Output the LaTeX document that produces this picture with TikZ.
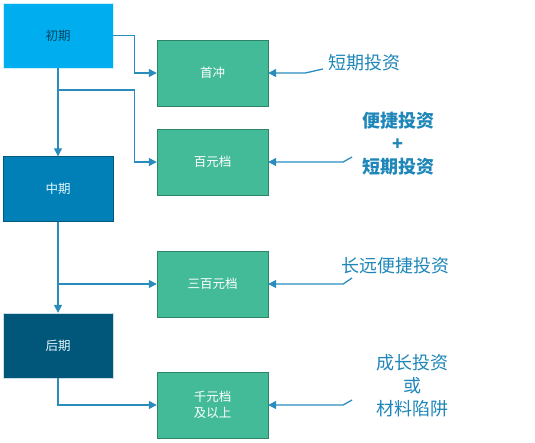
\documentclass[tikz,border=0pt]{standalone}
\usepackage{fontspec}
\setmainfont{Noto Sans CJK SC}
\usetikzlibrary{positioning,arrows.meta}
\definecolor{earlyblue}{HTML}{00AEEF}
\definecolor{midblue}{HTML}{0080B6}
\definecolor{lateblue}{HTML}{00577A}
\definecolor{tiergreen}{HTML}{44BB98}
\definecolor{tierline}{HTML}{2E8466}
\definecolor{flowblue}{HTML}{2A8CBD}
\definecolor{noteblue}{HTML}{1E86B8}
\tikzset{stagebox/.style={minimum width=110pt,minimum height=65pt,inner sep=0pt,text=white!90!cyan,font=\fontsize{12.5}{15}\selectfont},
  tierbox/.style={fill=tiergreen,draw=tierline,minimum width=111pt,minimum height=66pt,inner sep=0pt,text=white,align=center,font=\fontsize{12.5}{16}\selectfont},
  flow/.style={draw=flowblue,line width=1.3pt,-{Triangle[length=8pt,width=8pt]}},
  note/.style={text=noteblue,align=center,font=\fontsize{18}{23}\selectfont} }

\begin{document}
\begin{tikzpicture}[x=1pt,y=-1pt]
    \useasboundingbox (0,0) rectangle (535,442);
    % stages
    \node[stagebox,fill=earlyblue,draw=white!80!earlyblue,text=lateblue!80!black] (early) at (58,35.5) {初期};
    \node[stagebox,fill=midblue,draw=midblue!70!black] (mid) at (58,189) {中期};
    \node[stagebox,fill=lateblue,draw=white!80!lateblue] (late) at (58,345.5) {后期};
    % price tiers
    \node[tierbox] (first) at (212.5,73) {首冲};
    \node[tierbox] (hundred) at (212.5,162) {百元档};
    \node[tierbox] (threehundred) at (212.5,284) {三百元档};
    \node[tierbox] (thousand) at (212.5,405) {千元档\\及以上};
    % notes
    \node[note] (shortnote) at (364,63) {短期投资};
    \node[note,font=\fontsize{18}{23}\selectfont\bfseries] (mixnote) at (398,144) {便捷投资\\+\\短期投资};
    \node[note] (longnote) at (395,266) {长远便捷投资};
    \node[note] (growthnote) at (412,386) {成长投资\\或\\材料陷阱};
    \coordinate (branchA) at (58,90);
    \coordinate (branchB) at (58,284);
    \coordinate (shorttail) at (323,69);
    \coordinate (mixtail) at (352,157);
    \coordinate (longtail) at (352,278);
    \coordinate (growthtail) at (352,400);
    % flow
    \draw[flow] (early.east) -| ([xshift=-22pt]first.west) -- (first.west);
    \draw[flow] (early.south) -- (mid.north);
    \draw[flow] (branchA) -| ([xshift=-22pt]hundred.west) -- (hundred.west);
    \draw[flow] (mid.south) -- (late.north);
    \draw[flow] (branchB) -- (threehundred.west);
    \draw[flow] (late.south) |- (thousand.west);
    % note arrows
    \draw[flow] (shorttail) -- ([xshift=37pt]first.east) -- (first.east);
    \draw[flow] (mixtail) -- ([xshift=75pt]hundred.east) -- (hundred.east);
    \draw[flow] (longtail) -- ([xshift=75pt]threehundred.east) -- (threehundred.east);
    \draw[flow] (growthtail) -- ([xshift=75pt]thousand.east) -- (thousand.east);
\end{tikzpicture}
\end{document}
